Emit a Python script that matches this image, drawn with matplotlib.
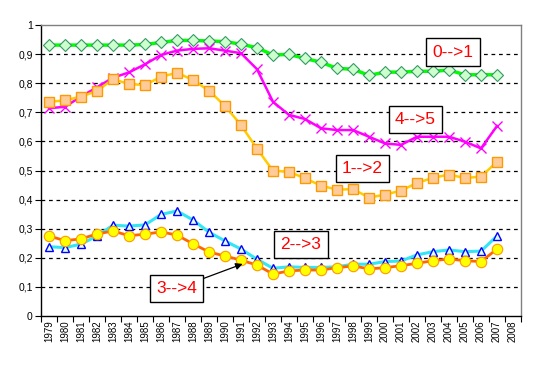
import matplotlib
matplotlib.use('Agg')
import matplotlib.pyplot as plt
import numpy as np

plt.rcParams['font.family'] = ['Liberation Sans', 'DejaVu Sans']

years = [str(y) for y in range(1979, 2009)]

# values per year 1979..2007 (2008 has no data)
s01 = [0.931, 0.931, 0.931, 0.931, 0.931, 0.931, 0.933, 0.940, 0.947, 0.947,
       0.945, 0.943, 0.934, 0.922, 0.897, 0.899, 0.885, 0.872, 0.851, 0.848,
       0.827, 0.838, 0.838, 0.841, 0.841, 0.845, 0.829, 0.829, 0.829]
s12 = [0.736, 0.741, 0.754, 0.773, 0.814, 0.797, 0.794, 0.822, 0.836, 0.811,
       0.774, 0.722, 0.656, 0.575, 0.499, 0.496, 0.473, 0.448, 0.434, 0.436,
       0.407, 0.417, 0.431, 0.457, 0.475, 0.486, 0.474, 0.479, 0.530]
s23 = [0.238, 0.235, 0.247, 0.275, 0.312, 0.309, 0.313, 0.349, 0.361, 0.330,
       0.288, 0.258, 0.230, 0.195, 0.164, 0.169, 0.167, 0.167, 0.169, 0.178,
       0.178, 0.187, 0.189, 0.210, 0.221, 0.227, 0.221, 0.223, 0.275]
s34 = [0.275, 0.259, 0.265, 0.282, 0.292, 0.276, 0.281, 0.289, 0.278, 0.248,
       0.220, 0.206, 0.192, 0.175, 0.144, 0.155, 0.158, 0.158, 0.166, 0.172,
       0.162, 0.166, 0.173, 0.181, 0.190, 0.196, 0.190, 0.187, 0.230]
s45 = [0.714, 0.719, 0.754, 0.786, 0.819, 0.837, 0.865, 0.897, 0.912, 0.918,
       0.920, 0.912, 0.903, 0.848, 0.736, 0.691, 0.677, 0.645, 0.639, 0.639,
       0.616, 0.593, 0.588, 0.616, 0.616, 0.616, 0.599, 0.576, 0.653]

W, H = 535, 365
fig = plt.figure(figsize=(W / 100, H / 100), dpi=100)
ax = fig.add_axes([41 / W, (H - 316) / H, 480 / W, 291 / H])

x = np.arange(len(s01))

ax.plot(x, s01, color='#00FF00', lw=2.5, marker='D', ms=6.5,
        mfc='#CCFFCC', mec='#339966', mew=0.8, zorder=5)
ax.plot(x, s45, color='#FF00FF', lw=1.8, marker='x', ms=7,
        mec='#FF00FF', mew=1.0, zorder=5)
ax.plot(x, s12, color='#FFCC00', lw=1.8, marker='s', ms=7.5,
        mfc='#FFCC99', mec='#FF9900', mew=1.0, zorder=5)
ax.plot(x, s23, color='#33E6F5', lw=2.2, marker='^', ms=5.5,
        mfc='#E0FFFF', mec='#0000FF', mew=1.0, zorder=5)
ax.plot(x, s34, color='#FF6600', lw=2.0, marker='o', ms=7.5,
        mfc='#FFFF00', mec='#FF9900', mew=0.8, zorder=6)

ax.set_xlim(-0.5, len(years) - 0.5)
ax.set_ylim(0, 1)

ax.set_xticks(np.arange(len(years) + 1) - 0.5)
ax.set_xticklabels([])
ax.set_xticks(np.arange(len(years)), minor=True)
ax.set_xticklabels(years, minor=True, rotation=90, fontsize=7)
ax.tick_params(axis='x', which='major', direction='out', length=4, width=0.8)
ax.tick_params(axis='x', which='minor', length=0, pad=3)

yt = np.round(np.arange(0, 1.01, 0.1), 1)
ax.set_yticks(yt)
ax.set_yticklabels(['0' if v == 0 else ('1' if v == 1 else ('%.1f' % v).replace('.', ','))
                    for v in yt], fontsize=7.5)
ax.tick_params(axis='y', direction='out', length=4, width=0.8, pad=2)

for v in yt[1:-1]:
    ax.axhline(v, color='black', lw=0.9, ls=(0, (3, 3)), zorder=1)

for s in ['left', 'bottom']:
    ax.spines[s].set_color('black')
    ax.spines[s].set_linewidth(1.0)
for s in ['top', 'right']:
    ax.spines[s].set_color('#808080')
    ax.spines[s].set_linewidth(1.0)

box = dict(boxstyle='square,pad=0.35', fc='white', ec='black', lw=1.0)
tkw = dict(color='red', fontsize=12.5, ha='center', va='center', bbox=box, zorder=10)
ax.text(25.25, 0.907, '0-->1', **tkw)
ax.text(22.9, 0.675, '4-->5', **tkw)
ax.text(19.6, 0.507, '1-->2', **tkw)
ax.text(15.75, 0.246, '2-->3', **tkw)
ax.annotate('3-->4', xy=(12.1, 0.179), xytext=(7.97, 0.0945), **tkw,
            arrowprops=dict(arrowstyle='-|>', color='black', lw=0.9,
                            mutation_scale=10, shrinkA=0, shrinkB=0))

fig.savefig('out.png', dpi=100)
